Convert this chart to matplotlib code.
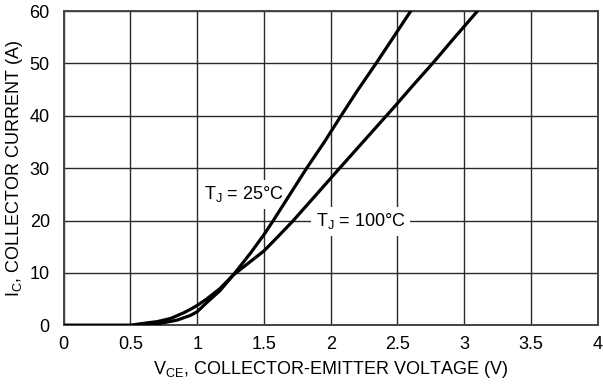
import matplotlib
matplotlib.use("Agg")
import matplotlib.pyplot as plt

plt.rcParams['font.family'] = ['Liberation Sans', 'DejaVu Sans']
plt.rcParams['mathtext.default'] = 'regular'

# Collector current vs collector-emitter voltage, two junction temperatures
vce_25 = [0, 0.5, 0.6, 0.67, 0.75, 0.85, 0.95, 1.0, 1.07, 1.17, 1.27, 1.4,
          1.5, 1.57, 1.7, 1.82, 1.95, 2.065, 2.2, 2.34, 2.47, 2.6]
ic_25 = [0, 0, 0.05, 0.15, 0.5, 1.0, 1.9, 2.6, 4.3, 6.6, 9.6, 13.8,
         17.3, 20, 25.2, 30, 34.9, 39.5, 44.8, 50, 55, 60]

vce_100 = [0, 0.5, 0.55, 0.62, 0.7, 0.8, 0.9, 0.96, 1.0, 1.07, 1.17, 1.27,
           1.4, 1.5, 1.6, 1.72, 1.88, 2.06, 2.27, 2.48, 2.62, 2.77, 2.93, 3.1]
ic_100 = [0, 0, 0.2, 0.45, 0.7, 1.3, 2.4, 3.2, 3.8, 5.0, 7.0, 9.6,
          12.2, 14.2, 16.8, 20, 24.6, 29.8, 35.8, 41.8, 45.9, 50.2, 55, 60]

x_ticks = [0, 0.5, 1, 1.5, 2, 2.5, 3, 3.5, 4]
x_tick_labels = ['0', '0.5', '1', '1.5', '2', '2.5', '3', '3.5', '4']
y_ticks = [0, 10, 20, 30, 40, 50, 60]

fig = plt.figure(figsize=(6.03, 3.89), dpi=100)
ax = fig.add_axes([0.1056, 0.1637, 0.9912 - 0.1056, 0.9717 - 0.1637])

ax.set_xlim(0, 4)
ax.set_ylim(0, 60)
ax.set_xticks(x_ticks)
ax.set_xticklabels(x_tick_labels)
ax.set_yticks(y_ticks)
ax.tick_params(length=0, labelsize=13, colors='black')
ax.tick_params(axis='y', pad=10)
ax.tick_params(axis='x', pad=8)

ax.grid(True, color='#2a2a2a', linewidth=1.0, zorder=1)
ax.set_axisbelow(True)
for s in ax.spines.values():
    s.set_color('#444444')
    s.set_linewidth(1.4)

ax.plot(vce_25, ic_25, color='black', linewidth=2.3, zorder=5,
        solid_joinstyle='round', solid_capstyle='round')
ax.plot(vce_100, ic_100, color='black', linewidth=2.3, zorder=5,
        solid_joinstyle='round', solid_capstyle='round')

box = dict(boxstyle='square,pad=0.25', fc='white', ec='none')
ax.text(1.05, 25.0, r'T$_J$ = 25°C', fontsize=13, ha='left', va='center',
        bbox=box, zorder=3)
ax.text(1.89, 19.9, r'T$_J$ = 100°C', fontsize=13, ha='left', va='center',
        bbox=box, zorder=3)

ax.set_xlabel(r'V$_{CE}$, COLLECTOR-EMITTER VOLTAGE (V)', fontsize=13, labelpad=4)
ax.set_ylabel(r'I$_C$, COLLECTOR CURRENT (A)', fontsize=13, labelpad=3)

fig.savefig('out.png', dpi=100)
